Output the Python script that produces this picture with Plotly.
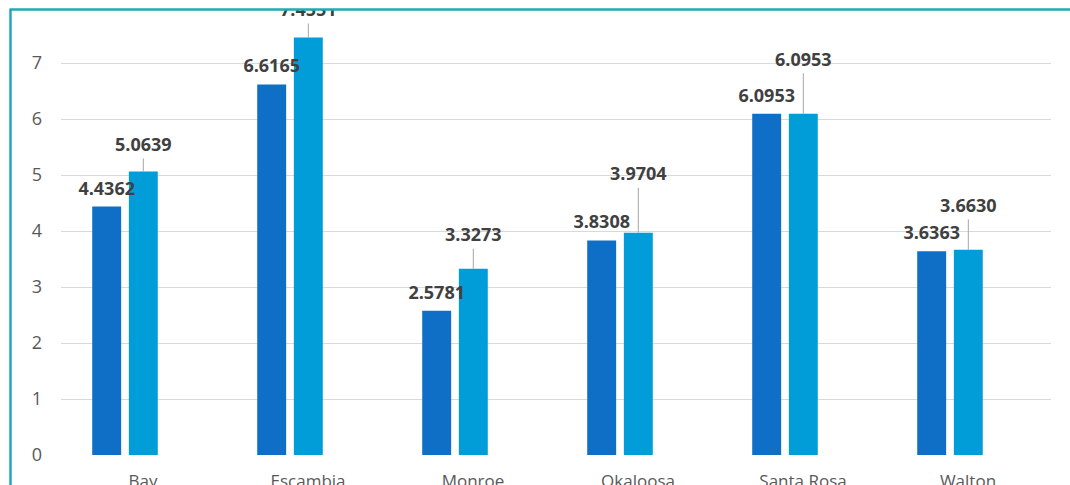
import plotly.graph_objects as go

# ---- data ----
counties = ["Bay", "Escambia", "Monroe", "Okaloosa", "Santa Rosa", "Walton"]
series_a = [4.4362, 6.6165, 2.5781, 3.8308, 6.0953, 3.6363]
series_b = [5.0639, 7.4551, 3.3273, 3.9704, 6.0953, 3.6630]
y_ticks = [0, 1, 2, 3, 4, 5, 6, 7, 8]

# ---- style / layout ----
W, H = 1070, 485
ML, MR, MT, MB = 61, 19, 7, 30
Y_MAX = 8
px_per_unit = (H - MT - MB) / Y_MAX
label_off_a = [16.5, 16.5, 16.5, 16.5, 16.5, 16.5]   # px above bar top (label centre)
label_off_b = [25, 26, 32, 57, 52.5, 42.5]           # px above bar top (label centre)
LEADER_GAP = 12                                      # px between leader top and label centre

DARK = "#0F6FC6"
LIGHT = "#009DD9"
LABEL_COLOR = "#404040"
TICK_COLOR = "#595959"
GRID = "#D9D9D9"
BORDER = "#22A8B3"
FONT = "Open Sans"
BARGAP = 0.556
GROUPGAP = 0.21

leader_b = [(o - LEADER_GAP) / px_per_unit for o in label_off_b]
ya = [v + o / px_per_unit for v, o in zip(series_a, label_off_a)]
yb = [v + o / px_per_unit for v, o in zip(series_b, label_off_b)]

fig = go.Figure()
fig.add_trace(go.Bar(x=counties, y=series_a, marker=dict(color=DARK, line=dict(width=0)),
                     showlegend=False, hoverinfo="skip"))
fig.add_trace(go.Bar(x=counties, y=series_b, marker=dict(color=LIGHT, line=dict(width=0)),
                     showlegend=False, hoverinfo="skip",
                     error_y=dict(type="data", symmetric=False, array=leader_b,
                                  arrayminus=[0] * len(series_b), color="#A6A6A6",
                                  thickness=1, width=0)))
fig.add_trace(go.Scatter(x=counties, y=ya, mode="text", text=[f"{v:.4f}" for v in series_a],
                         textposition="middle center", cliponaxis=False, showlegend=False,
                         textfont=dict(family=FONT, size=18, color=LABEL_COLOR, weight="bold"),
                         hoverinfo="skip"))
fig.add_trace(go.Scatter(x=counties, y=yb, mode="text", text=[f"{v:.4f}" for v in series_b],
                         textposition="middle center", cliponaxis=False, showlegend=False,
                         textfont=dict(family=FONT, size=18, color=LABEL_COLOR, weight="bold"),
                         hoverinfo="skip"))

x_lo = (ML - 125) / 165.0
x_hi = x_lo + (W - ML - MR) / 165.0

# frame: white mask above top border, teal lines
pw = W - ML - MR
ph = H - MT - MB
def px2x(p):
    return (p - ML) / pw
def py2y(p):
    return (H - MB - p) / ph

shapes = [
    dict(type="rect", xref="paper", yref="paper", x0=px2x(0), x1=px2x(W), y0=py2y(9.5), y1=py2y(-5),
         fillcolor="white", line=dict(width=0), layer="above"),
    dict(type="line", xref="paper", yref="paper", x0=px2x(9.5), x1=px2x(W + 5), y0=py2y(9.5), y1=py2y(9.5),
         line=dict(color=BORDER, width=2.5), layer="above"),
    dict(type="line", xref="paper", yref="paper", x0=px2x(10.5), x1=px2x(10.5), y0=py2y(9.5), y1=py2y(H + 5),
         line=dict(color=BORDER, width=2.5), layer="above"),
]

fig.update_layout(
    width=W, height=H,
    margin=dict(l=ML, r=MR, t=MT, b=MB, pad=0, autoexpand=False),
    paper_bgcolor="white", plot_bgcolor="white",
    barmode="group", bargap=BARGAP, bargroupgap=GROUPGAP,
    scattermode="group", scattergap=BARGAP,
    font=dict(family=FONT),
    shapes=shapes,
    xaxis=dict(range=[x_lo, x_hi], showgrid=False, zeroline=False, showline=False, ticks="",
               tickfont=dict(family=FONT, size=17, color=TICK_COLOR), ticklabelstandoff=14,
               ticklabelshift=18, automargin=False, fixedrange=True),
    yaxis=dict(range=[0, Y_MAX], tickvals=y_ticks, showgrid=True, gridcolor=GRID, gridwidth=1,
               zeroline=False, showline=False, ticks="",
               tickfont=dict(family=FONT, size=18, color=TICK_COLOR), ticklabelstandoff=18,
               automargin=False, fixedrange=True),
)

fig.write_html("out.html", config={"displayModeBar": False},
               post_script="document.body.style.margin='0';document.body.style.overflow='hidden';")
